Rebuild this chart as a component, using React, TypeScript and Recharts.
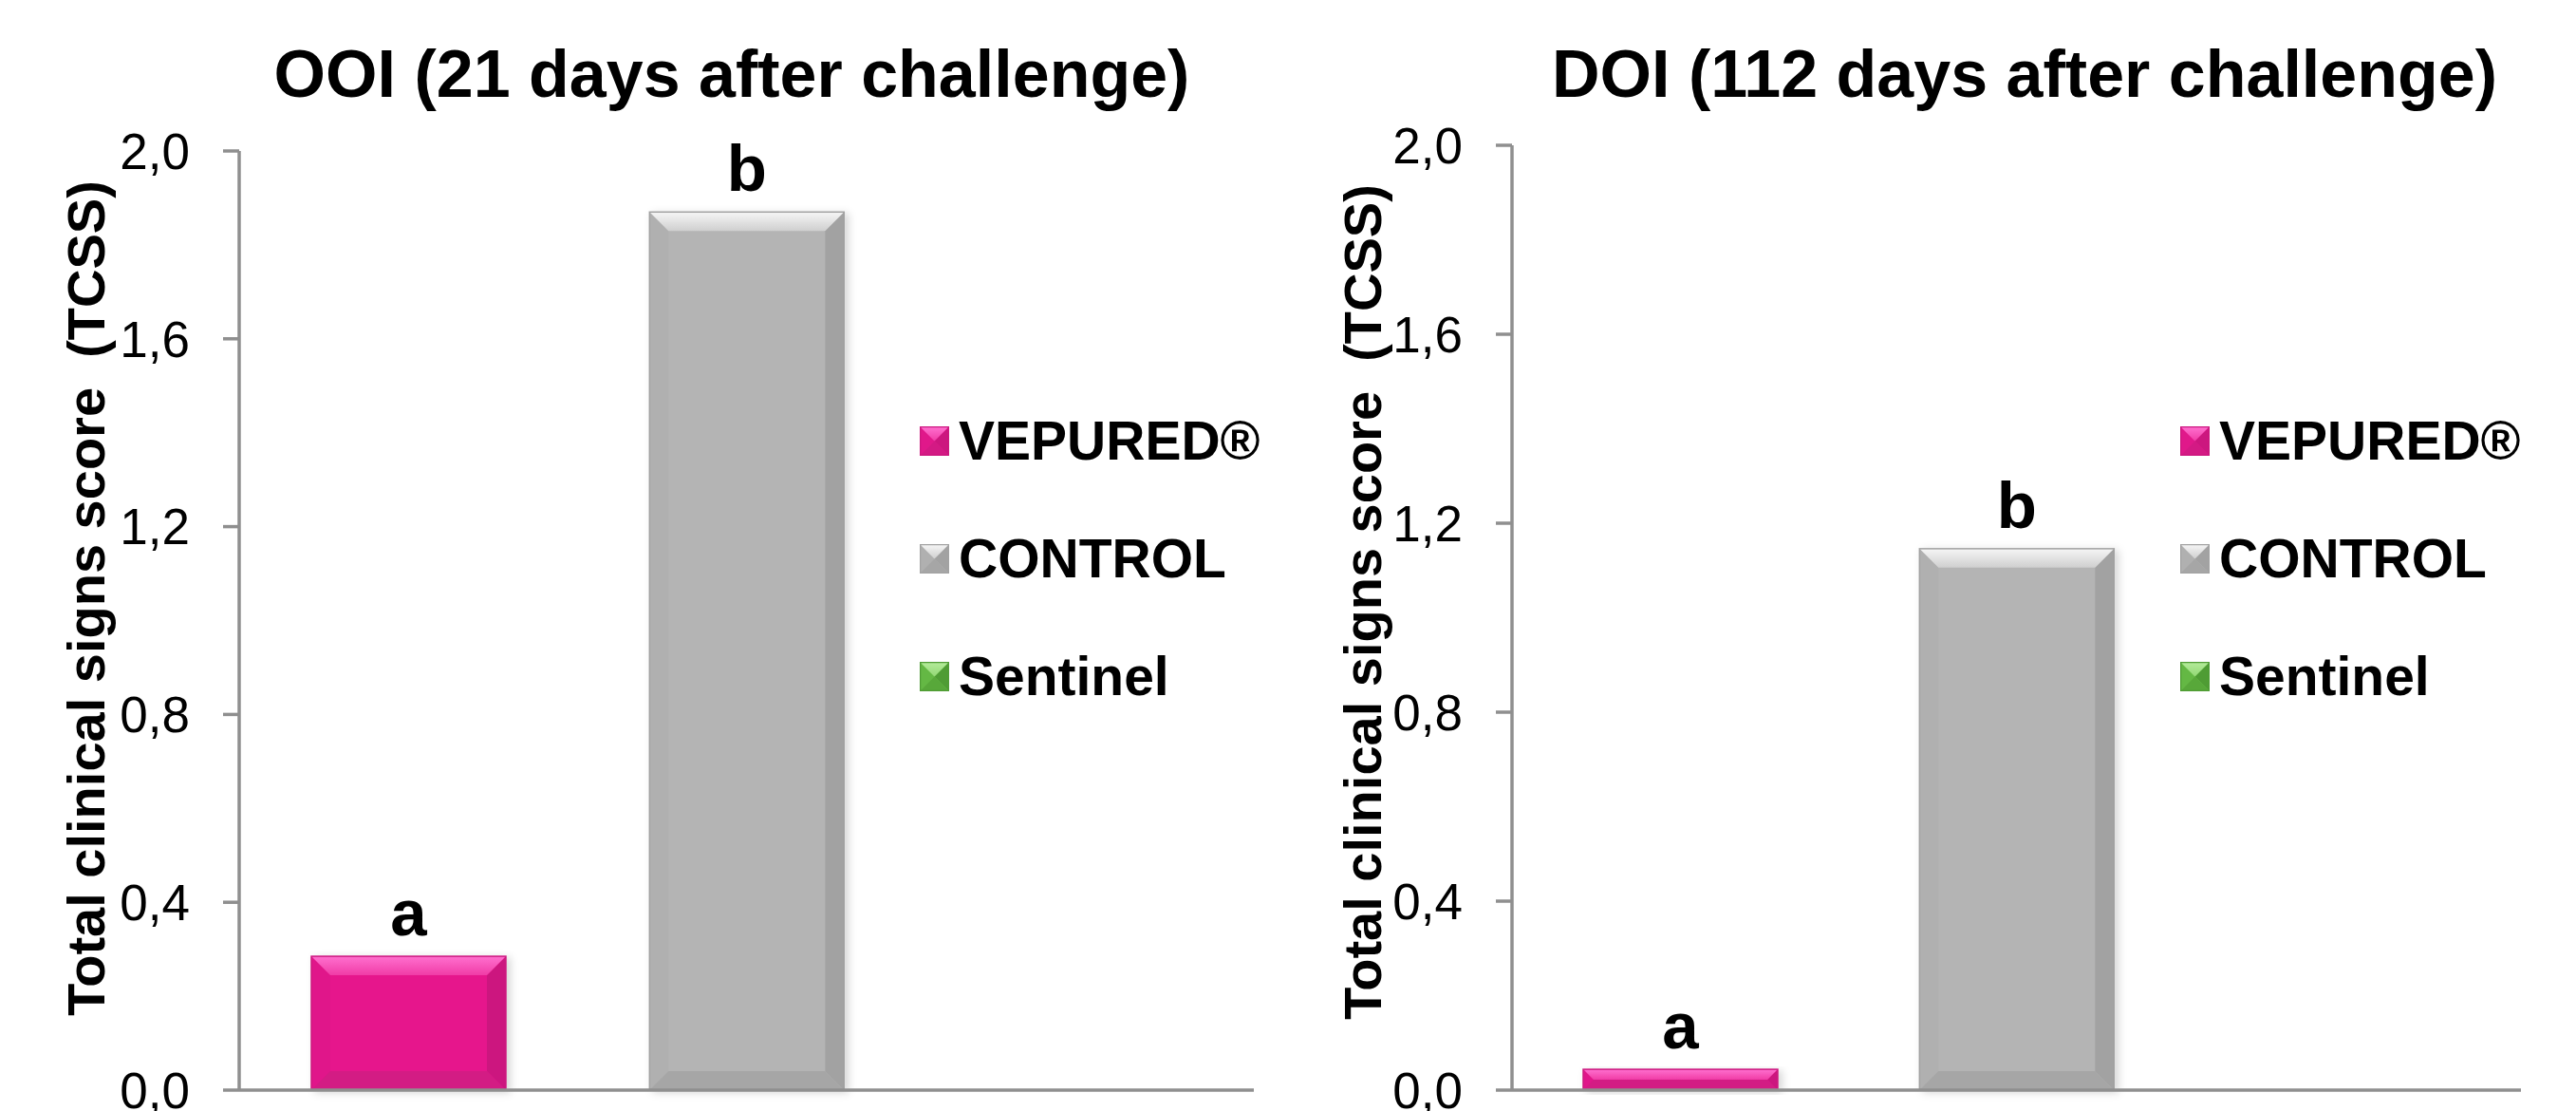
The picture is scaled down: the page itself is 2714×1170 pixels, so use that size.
import { BarChart, Bar, XAxis, YAxis, LabelList, Legend } from 'recharts'

const groups = ['VEPURED®', 'CONTROL', 'Sentinel']
const ooiScores = [0.285, 1.87, 0]
const doiScores = [0.044, 1.146, 0]
const ooiLetters = ['a', 'b', '']
const doiLetters = ['a', 'b', '']
const yTicks = [0, 0.4, 0.8, 1.2, 1.6, 2.0]
const ooiTitle = 'OOI (21 days after challenge)'
const doiTitle = 'DOI (112 days after challenge)'
const yLabel = 'Total clinical signs score  (TCSS)'

const FONT = '"Liberation Sans", Arial, Helvetica, sans-serif'
const AXIS = '#8f8f8f'

// base / top bevel / bottom bevel / left side / right side
const palette: Record<string, { base: string; top: string; hi: string; bottom: string; left: string; right: string }> = {
  'VEPURED®': { base: '#e6198c', top: '#f03ca6', hi: '#ff70cf', bottom: '#d31a84', left: '#e0188a', right: '#cc177f' },
  CONTROL: { base: '#b4b4b4', top: '#cfcfcf', hi: '#f6f6f6', bottom: '#a6a6a6', left: '#b0b0b0', right: '#a2a2a2' },
  Sentinel: { base: '#6cc04a', top: '#92d874', hi: '#b4eb9a', bottom: '#58a83a', left: '#64b844', right: '#4f9c34' },
}

const makeRows = (scores: number[], letters: string[]) =>
  groups.map((name, i) => ({ name, score: scores[i], letter: letters[i] }))

function Bevel({ x, y, w, h, name, b }: { x: number; y: number; w: number; h: number; name: string; b: number }) {
  const c = palette[name]
  const gid = `hi-${name.replace(/[^A-Za-z]/g, '')}`
  return (
    <g>
      <defs>
        <linearGradient id={gid} x1="0" y1="0" x2="0" y2="1">
          <stop offset="0" stopColor={c.hi} />
          <stop offset="1" stopColor={c.top} />
        </linearGradient>
      </defs>
      <rect x={x} y={y} width={w} height={h} fill={c.base} />
      <polygon points={`${x},${y} ${x + b},${y + b} ${x + b},${y + h - b} ${x},${y + h}`} fill={c.left} />
      <polygon points={`${x + w},${y} ${x + w - b},${y + b} ${x + w - b},${y + h - b} ${x + w},${y + h}`} fill={c.right} />
      <polygon points={`${x},${y} ${x + w},${y} ${x + w - b},${y + b} ${x + b},${y + b}`} fill={`url(#${gid})`} />
      <polygon points={`${x},${y + h} ${x + w},${y + h} ${x + w - b},${y + h - b} ${x + b},${y + h - b}`} fill={c.bottom} />
      <rect x={x} y={y} width={w} height={h} fill="none" stroke={c.right} strokeWidth={1.5} />
    </g>
  )
}

function BevelBar(props: any) {
  const { x, y, width, height, payload } = props
  if (!height || height <= 0) return null
  const b = Math.min(20, height / 2, width / 2)
  return (
    <g filter="url(#barShadow)">
      <Bevel x={x} y={y} w={width} h={height} name={payload.name} b={b} />
    </g>
  )
}

function LegendBox() {
  return (
    <div style={{ display: 'flex', flexDirection: 'column' }}>
      {groups.map((g) => (
        <div key={g} style={{ display: 'flex', alignItems: 'center', height: 124 }}>
          <svg width={31} height={31} style={{ display: 'block' }}>
            <Bevel x={0.5} y={0.5} w={30} h={30} name={g} b={15} />
          </svg>
          <span style={{ marginLeft: 10, fontFamily: FONT, fontWeight: 'bold', fontSize: 57, color: '#000', lineHeight: 1 }}>{g}</span>
        </div>
      ))}
    </div>
  )
}

interface PanelProps {
  left: number
  top: number
  yAxisWidth: number
  right: number
  title: string
  titleX: number
  labelX: number
  labelY: number
  legendX: number
  scores: number[]
  letters: string[]
}

function Panel({ left, top, yAxisWidth, right, title, titleX, labelX, labelY, legendX, scores, letters }: PanelProps) {
  const data = makeRows(scores, letters)
  return (
    <div style={{ position: 'absolute', left, top: 0, width: 1357, height: 1170 }}>
      <div
        style={{
          position: 'absolute',
          left: titleX - 700,
          width: 1400,
          top: 43,
          textAlign: 'center',
          fontFamily: FONT,
          fontWeight: 'bold',
          fontSize: 70,
          lineHeight: 1,
          whiteSpace: 'pre',
        }}
      >
        {title}
      </div>
      <BarChart width={1357} height={1170} data={data} margin={{ top, right, bottom: 21, left: 0 }}>
        <defs>
          <filter id="barShadow" x="-10%" y="-10%" width="130%" height="130%">
            <feDropShadow dx={4} dy={2} stdDeviation={4} floodColor="#000" floodOpacity={0.16} />
          </filter>
        </defs>
        <XAxis dataKey="name" tick={false} tickLine={false} height={1} axisLine={{ stroke: AXIS, strokeWidth: 3.5 }} />
        <YAxis
          type="number"
          domain={[0, 2]}
          ticks={yTicks}
          interval={0}
          width={yAxisWidth}
          tickSize={17}
          tickMargin={35}
          tickFormatter={(v: number) => v.toFixed(1).replace('.', ',')}
          tick={{ fontSize: 53, fill: '#000', fontFamily: FONT }}
          tickLine={{ stroke: AXIS, strokeWidth: 3.5 }}
          axisLine={{ stroke: AXIS, strokeWidth: 3.5 }}
          label={{
            content: () => (
              <text
                x={labelX}
                y={labelY}
                transform={`rotate(-90 ${labelX} ${labelY})`}
                textAnchor="middle"
                dy="0.36em"
                fontFamily={FONT}
                fontWeight="bold"
                fontSize={56}
                fill="#000"
                style={{ whiteSpace: 'pre' }}
              >
                {yLabel}
              </text>
            ),
          }}
        />
        <Legend
          layout="horizontal"
          verticalAlign="middle"
          align="center"
          content={() => <LegendBox />}
          wrapperStyle={{ left: legendX, top: 402, width: 'auto' }}
        />
        <Bar dataKey="score" barSize={205} isAnimationActive={false} shape={BevelBar}>
          <LabelList
            dataKey="letter"
            position="top"
            offset={22}
            style={{ fontSize: 69, fontWeight: 'bold', fill: '#000', fontFamily: FONT }}
          />
        </Bar>
      </BarChart>
    </div>
  )
}

export default function App() {
  return (
    <div style={{ position: 'absolute', left: 0, top: 0, width: 2714, height: 1170, background: '#fff' }}>
      <Panel
        left={0}
        top={159}
        yAxisWidth={252}
        right={36}
        title={ooiTitle}
        titleX={771}
        labelX={90}
        labelY={630}
        legendX={969}
        scores={ooiScores}
        letters={ooiLetters}
      />
      <Panel
        left={1357}
        top={153}
        yAxisWidth={236}
        right={58}
        title={doiTitle}
        titleX={776}
        labelX={78}
        labelY={634}
        legendX={940}
        scores={doiScores}
        letters={doiLetters}
      />
    </div>
  )
}
